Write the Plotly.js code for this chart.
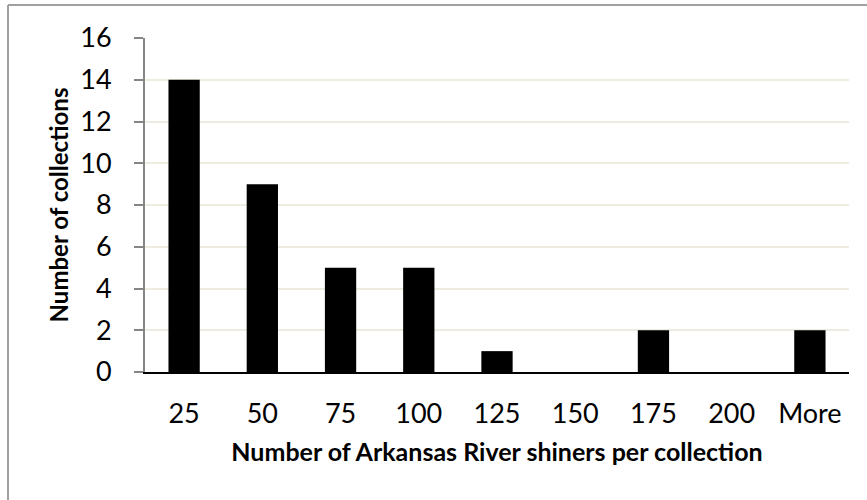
<!DOCTYPE html>
<html>
<head>
<meta charset="utf-8">
<script src="https://cdn.plot.ly/plotly-3.0.1.min.js"></script>
<style>html,body{margin:0;padding:0;background:#fff;}#chart{width:867px;height:500px;}</style>
</head>
<body>
<div id="chart"></div>
<script>
const categories = ["25", "50", "75", "100", "125", "150", "175", "200", "More"];
const collections = [14, 9, 5, 5, 1, 0, 2, 0, 2];
const yTicks = [0, 2, 4, 6, 8, 10, 12, 14, 16];

const FONT = "Lato, Carlito, 'Liberation Sans', sans-serif";

const trace = {
  type: "bar",
  x: categories,
  y: collections,
  marker: {color: "#000000", line: {width: 0}},
  hoverinfo: "x+y"
};

const layout = {
  width: 867, height: 500,
  margin: {l: 145, r: 18, t: 38, b: 128},
  paper_bgcolor: "#ffffff",
  plot_bgcolor: "#ffffff",
  bargap: 0.6,
  showlegend: false,
  font: {family: FONT, color: "#000000"},
  xaxis: {
    type: "category",
    showline: true, linecolor: "#000000", linewidth: 2,
    showgrid: false, ticks: "",
    tickfont: {size: 27, family: FONT},
    ticklabelstandoff: 17,
    title: {text: "<b>Number of Arkansas River shiners per collection</b>", font: {size: 25, family: FONT}, standoff: 15}
  },
  yaxis: {
    range: [0, 16],
    tickvals: yTicks,
    showline: true, linecolor: "#868686", linewidth: 2,
    ticks: "outside", ticklen: 9, tickcolor: "#868686", tickwidth: 2,
    showgrid: true, gridcolor: "#EEECE1", gridwidth: 2,
    zeroline: false,
    tickfont: {size: 27, family: FONT},
    ticklabelstandoff: 17,
    title: {text: "<b>Number of collections</b>", font: {size: 24, family: FONT}, standoff: 5}
  },
  shapes: [
    {type: "line", xref: "paper", yref: "paper", x0: -0.1946, x1: 1.03, y0: 1.0988, y1: 1.0988, line: {color: "#A0A0A0", width: 2}},
    {type: "line", xref: "paper", yref: "paper", x0: -0.1946, x1: -0.1946, y0: 1.0988, y1: -0.5, line: {color: "#A0A0A0", width: 2}}
  ]
};

Plotly.newPlot("chart", [trace], layout, {displayModeBar: false, staticPlot: true});
</script>
</body>
</html>
